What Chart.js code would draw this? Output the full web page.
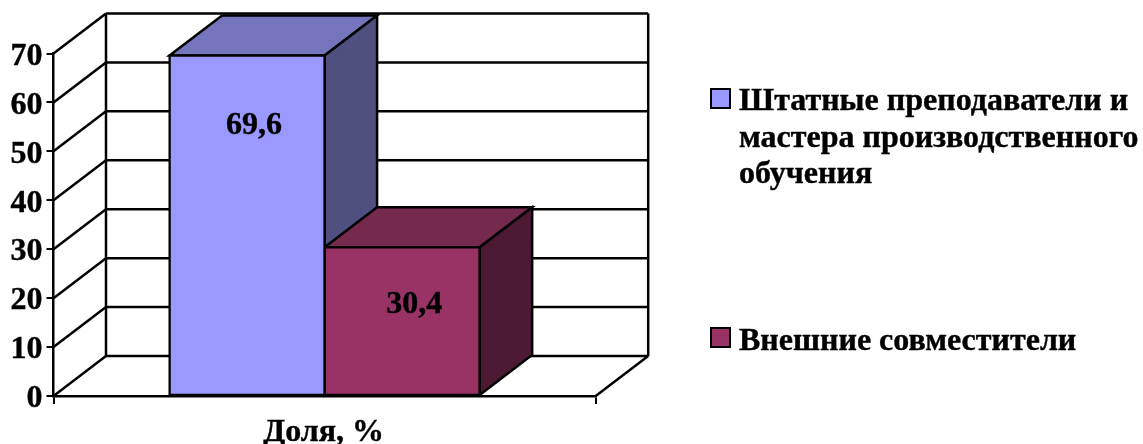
<!DOCTYPE html>
<html>
<head>
<meta charset="utf-8">
<script src="https://cdn.jsdelivr.net/npm/chart.js@4"></script>
<style>
    body { margin: 0; background: #fff; }
    #wrap { position: relative; width: 1143px; height: 444px; overflow: hidden; }
    #legend { position: absolute; left: 0; top: 0; font: bold 32px "Liberation Serif", serif; color: #000; -webkit-text-stroke: 0.4px #000; }
    .item { position: absolute; left: 710px; white-space: nowrap; }
    .box { position: absolute; left: 0; width: 17px; height: 17px; border: 2.5px solid #000; }
    .label { position: absolute; left: 29px; top: 0; line-height: 36.5px; }
</style>
</head>
<body>
<div id="wrap">
    <canvas id="chart" width="1143" height="444"></canvas>
    <div id="legend"></div>
</div>
<script>
const categories = ['Доля, %'];
const seriesNames = ['Штатные преподаватели и мастера производственного обучения', 'Внешние совместители'];
const seriesValues = [[69.6], [30.4]];
const seriesColors = ['#9999FF', '#993366'];
const topColors = ['#7575BD', '#74294D'];
const sideColors = ['#4F4F80', '#4C1A33'];
const yTicks = [0, 10, 20, 30, 40, 50, 60, 70];

const depthX = 52.5;
const depthY = -40;
const lineW = 2.5;
const tickFont = { family: '"Liberation Serif", serif', size: 32, weight: 'bold' };

function line(ctx, x1, y1, x2, y2) {
    ctx.beginPath();
    ctx.moveTo(x1, y1);
    ctx.lineTo(x2, y2);
    ctx.stroke();
}

function poly(ctx, pts, fill) {
    ctx.beginPath();
    pts.forEach((p, i) => i ? ctx.lineTo(p[0], p[1]) : ctx.moveTo(p[0], p[1]));
    ctx.closePath();
    ctx.fillStyle = fill;
    ctx.fill();
    ctx.stroke();
}

// back wall, grid lines and the top and side faces of the bars
const box3d = {
    id: 'box3d',
    beforeDatasetsDraw(chart) {
        const { ctx, chartArea: area, scales: { y } } = chart;
        ctx.save();
        ctx.strokeStyle = '#000';
        ctx.lineWidth = lineW;
        ctx.lineJoin = 'miter';
        yTicks.forEach(t => {
            const py = y.getPixelForValue(t);
            line(ctx, area.left, py, area.left + depthX, py + depthY);
            line(ctx, area.left + depthX, py + depthY, area.right + depthX, py + depthY);
        });
        const backTop = y.getPixelForValue(70) + depthY;
        const backBottom = y.getPixelForValue(0) + depthY;
        line(ctx, area.left + depthX, backTop, area.left + depthX, backBottom);
        line(ctx, area.right + depthX, backTop, area.right + depthX, backBottom);
        line(ctx, area.right, area.bottom, area.right + depthX, backBottom);

        seriesValues.forEach((values, i) => {
            chart.getDatasetMeta(i).data.forEach(bar => {
                const l = bar.x - bar.width / 2;
                const r = bar.x + bar.width / 2;
                poly(ctx, [[l, bar.y], [l + depthX, bar.y + depthY], [r + depthX, bar.y + depthY], [r, bar.y]], topColors[i]);
                poly(ctx, [[r, bar.y], [r + depthX, bar.y + depthY], [r + depthX, bar.base + depthY], [r, bar.base]], sideColors[i]);
            });
        });
        ctx.restore();
    },
    afterDatasetsDraw(chart) {
        const { ctx } = chart;
        const shifts = [[7, 70], [12, 57]];
        ctx.save();
        ctx.font = 'bold 32px "Liberation Serif", serif';
        ctx.fillStyle = '#000';
        ctx.strokeStyle = '#000';
        ctx.lineWidth = 0.4;
        ctx.textAlign = 'center';
        ctx.textBaseline = 'middle';
        seriesValues.forEach((values, i) => {
            chart.getDatasetMeta(i).data.forEach((bar, j) => {
                const text = String(values[j]).replace('.', ',');
                ctx.fillText(text, bar.x + shifts[i][0], bar.y + shifts[i][1]);
                ctx.strokeText(text, bar.x + shifts[i][0], bar.y + shifts[i][1]);
            });
        });
        ctx.restore();
    }
};

new Chart(document.getElementById('chart'), {
    type: 'bar',
    data: {
        labels: categories,
        datasets: seriesNames.map((name, i) => ({
            label: name,
            data: seriesValues[i],
            backgroundColor: seriesColors[i],
            borderColor: '#000',
            borderWidth: lineW,
            borderSkipped: false,
            inflateAmount: lineW / 2,
            barPercentage: 1,
            categoryPercentage: 0.572
        }))
    },
    plugins: [box3d],
    options: {
        responsive: false,
        animation: false,
        layout: { padding: { left: 0, top: 53.5, right: 547.3, bottom: 0 } },
        plugins: { legend: { display: false }, tooltip: { enabled: false } },
        scales: {
            x: {
                afterFit(scale) { scale.height = 48; },
                grid: { color: '#000', lineWidth: 2, tickLength: 8, drawOnChartArea: false, offset: true },
                border: { color: '#000', width: lineW },
                ticks: { color: '#000', font: tickFont, padding: 10, maxRotation: 0, labelOffset: -1, textStrokeColor: '#000', textStrokeWidth: 0.4 }
            },
            y: {
                min: 0,
                max: 70,
                afterFit(scale) { scale.width = 53.5; },
                afterBuildTicks(scale) { scale.ticks = yTicks.map(v => ({ value: v })); },
                grid: { color: '#000', lineWidth: 2, tickLength: 7, drawOnChartArea: false },
                border: { color: '#000', width: lineW },
                ticks: { color: '#000', font: tickFont, padding: 4, labelOffset: 3, textStrokeColor: '#000', textStrokeWidth: 0.4 }
            }
        }
    }
});

const legendLayout = [
    { top: 88, labelTop: -7, width: 410 },
    { top: 327, labelTop: -6, width: 420 }
];
const legend = document.getElementById('legend');
seriesNames.forEach((name, i) => {
    const item = document.createElement('div');
    item.className = 'item';
    item.style.top = legendLayout[i].top + 'px';
    const box = document.createElement('div');
    box.className = 'box';
    box.style.background = seriesColors[i];
    const label = document.createElement('div');
    label.className = 'label';
    label.style.top = legendLayout[i].labelTop + 'px';
    label.style.whiteSpace = 'normal';
    label.style.width = legendLayout[i].width + 'px';
    label.textContent = name;
    item.appendChild(box);
    item.appendChild(label);
    legend.appendChild(item);
});
</script>
</body>
</html>
